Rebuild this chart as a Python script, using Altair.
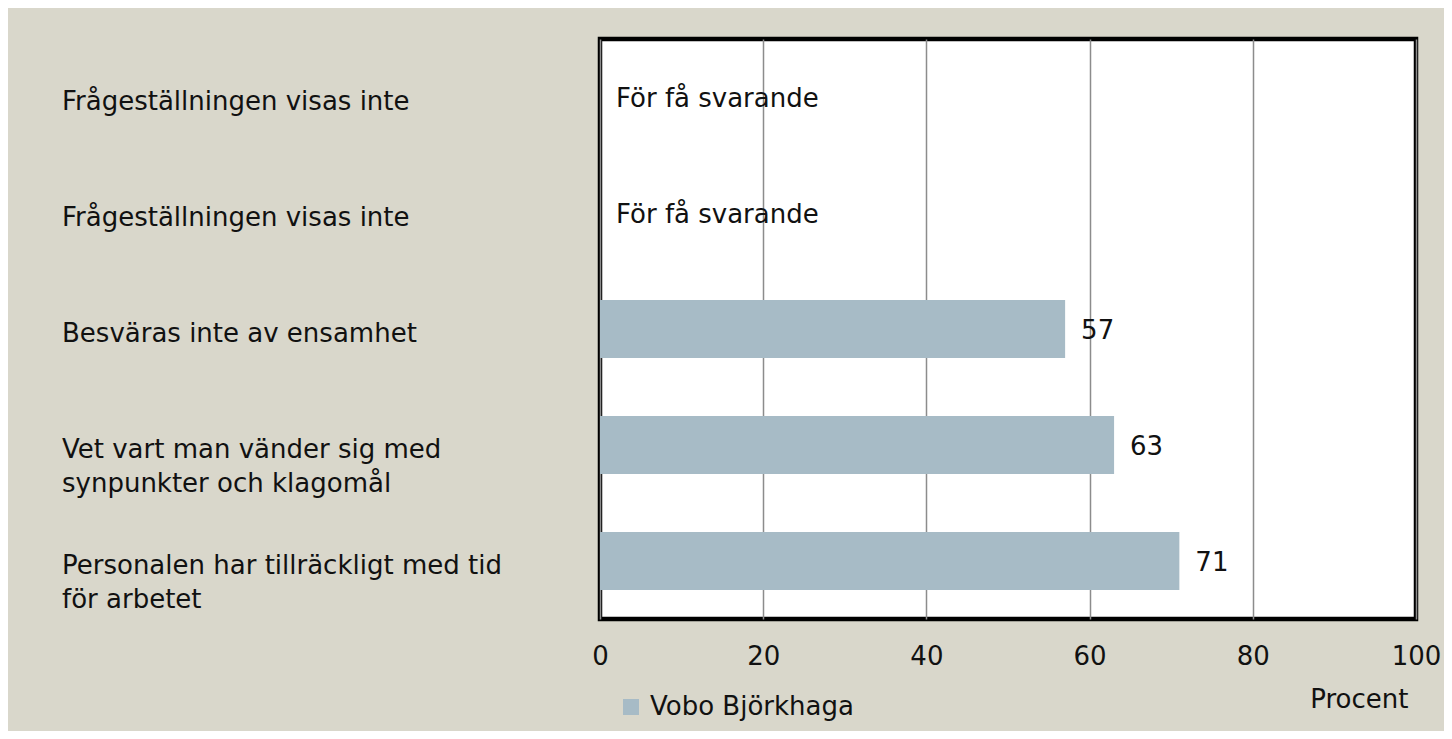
import altair as alt
import pandas as pd

rows = [1, 2, 3, 4, 5]
categories = [
    "Frågeställningen visas inte",
    "Frågeställningen visas inte",
    "Besväras inte av ensamhet",
    "Vet vart man vänder sig med\nsynpunkter och klagomål",
    "Personalen har tillräckligt med tid\nför arbetet",
]
values = [None, None, 57, 63, 71]
notes = ["För få svarande", "För få svarande", "", "", ""]
series = "Vobo Björkhaga"
x_ticks = [0, 20, 40, 60, 80, 100]

FONT = "DejaVu Sans"
FS = 26
BG = "#d9d7cb"
BAR = "#a7bbc6"
TXT = "#111111"

df = pd.DataFrame({
    "row": rows,
    "category": categories,
    "value": values,
    "note": notes,
})
df["series"] = series
df["label"] = [str(int(v)) if v is not None and v == v else n for v, n in zip(values, notes)]
df["xpos"] = [v if v is not None and v == v else 0 for v in values]

yscale = alt.Scale(paddingInner=0.5, paddingOuter=0.25)
xscale = alt.Scale(domain=[0, 100])

base = alt.Chart(df)

bars = base.mark_bar(color=BAR).encode(
    x=alt.X(
        "value:Q",
        scale=xscale,
        axis=alt.Axis(
            values=x_ticks,
            title="Procent",
            titleFont=FONT,
            titleFontSize=FS,
            titleFontWeight="normal",
            titleColor=TXT,
            titleAnchor="end",
            titleAlign="right",
            titleBaseline="alphabetic",
            titleX=808,
            titleY=88,
            labelFont=FONT,
            labelFontSize=FS,
            labelColor=TXT,
            labelPadding=24,
            labelFlush=False,
            grid=True,
            gridColor="#8c8c8c",
            gridWidth=1.5,
            domain=False,
            ticks=False,
        ),
    ),
    y=alt.Y("row:O", scale=yscale, axis=None),
    color=alt.Color(
        "series:N",
        scale=alt.Scale(range=[BAR]),
        legend=alt.Legend(
            title=None,
            orient="none",
            legendX=18,
            legendY=655,
            symbolType="square",
            symbolSize=256,
            symbolStrokeWidth=0,
            labelFont=FONT,
            labelFontSize=FS,
            labelColor=TXT,
            labelOffset=6,
            labelLimit=0,
            padding=0,
        ),
    ),
)

value_text = base.mark_text(
    align="left", baseline="middle", dx=16, dy=2, font=FONT, fontSize=FS, color=TXT
).encode(
    x=alt.X("xpos:Q", scale=xscale),
    y=alt.Y("row:O", scale=yscale, axis=None),
    text="label:N",
)

cat_text = base.mark_text(
    align="left", baseline="top", dy=-8, font=FONT, fontSize=FS, color=TXT,
    lineBreak="\n", lineHeight=34,
).encode(
    x=alt.value(-538),
    y=alt.Y("row:O", scale=yscale, axis=None),
    text="category:N",
)

chart = (
    alt.layer(bars, value_text, cat_text)
    .properties(
        width=816,
        height=580,
        background=BG,
        padding={"left": 592, "top": 31, "right": 28, "bottom": 112},
        autosize=alt.AutoSizeParams(type="none"),
    )
    .configure_view(fill="white", stroke="black", strokeWidth=4.5)
)

chart.save("out.html", embed_options={"renderer": "svg", "actions": False})
